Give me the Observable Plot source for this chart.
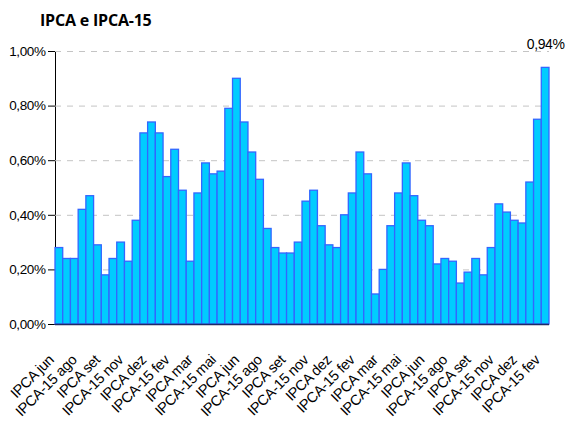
<!DOCTYPE html>
<html>
<head>
<meta charset="utf-8">
<script src="https://cdn.jsdelivr.net/npm/d3@7"></script>
<script src="https://cdn.jsdelivr.net/npm/@observablehq/plot@0.6"></script>
<style>
  html, body { margin: 0; padding: 0; background: #fff; }
  #wrap { position: relative; width: 566px; height: 424px; overflow: hidden; }
  #title { position: absolute; left: 40px; top: 12px; font: bold 16px "Open Sans", sans-serif; line-height: 16px; color: #000; letter-spacing: -0.2px; }
  #chart svg text { font-family: "Liberation Sans", Arial, sans-serif; }
  #chart svg g[aria-label="x-axis tick label"] text { font-size: 14.5px; letter-spacing: -0.3px; }
</style>
</head>
<body>
<div id="wrap">
  <div id="chart"></div>
  <div id="title">IPCA e IPCA-15</div>
</div>
<script>
const categories = [
  "IPCA jun", "IPCA-15 jul", "IPCA jul", "IPCA-15 ago", "IPCA ago", "IPCA-15 set", "IPCA set", "IPCA-15 out",
  "IPCA out", "IPCA-15 nov", "IPCA nov", "IPCA-15 dez", "IPCA dez", "IPCA-15 jan", "IPCA jan", "IPCA-15 fev",
  "IPCA fev", "IPCA-15 mar", "IPCA mar", "IPCA-15 abr", "IPCA abr", "IPCA-15 mai", "IPCA mai", "IPCA-15 jun",
  "IPCA jun", "IPCA-15 jul", "IPCA jul", "IPCA-15 ago", "IPCA ago", "IPCA-15 set", "IPCA set", "IPCA-15 out",
  "IPCA out", "IPCA-15 nov", "IPCA nov", "IPCA-15 dez", "IPCA dez", "IPCA-15 jan", "IPCA jan", "IPCA-15 fev",
  "IPCA fev", "IPCA-15 mar", "IPCA mar", "IPCA-15 abr", "IPCA abr", "IPCA-15 mai", "IPCA mai", "IPCA-15 jun",
  "IPCA jun", "IPCA-15 jul", "IPCA jul", "IPCA-15 ago", "IPCA ago", "IPCA-15 set", "IPCA set", "IPCA-15 out",
  "IPCA out", "IPCA-15 nov", "IPCA nov", "IPCA-15 dez", "IPCA dez", "IPCA-15 jan", "IPCA jan", "IPCA-15 fev"
];
const values = [
  0.28, 0.24, 0.24, 0.42, 0.47, 0.29, 0.18, 0.24,
  0.30, 0.23, 0.38, 0.70, 0.74, 0.70, 0.54, 0.64,
  0.49, 0.23, 0.48, 0.59, 0.55, 0.56, 0.79, 0.90,
  0.74, 0.63, 0.53, 0.35, 0.28, 0.26, 0.26, 0.30,
  0.45, 0.49, 0.36, 0.29, 0.28, 0.40, 0.48, 0.63,
  0.55, 0.11, 0.20, 0.36, 0.48, 0.59, 0.47, 0.38,
  0.36, 0.22, 0.24, 0.23, 0.15, 0.19, 0.24, 0.18,
  0.28, 0.44, 0.41, 0.38, 0.37, 0.52, 0.75, 0.94
];
const yTicks = [0, 0.2, 0.4, 0.6, 0.8, 1.0];
const gridTicks = [0.2, 0.4, 0.6, 0.8, 1.0];
const labelEvery = 3;

const fmt = v => v.toFixed(2).replace(".", ",") + "%";
const data = values.map((v, i) => ({i, label: categories[i], value: v}));
const xTicks = data.filter(d => d.i % labelEvery === 0).map(d => d.i);
const last = [data[data.length - 1]];

const chart = Plot.plot({
  width: 566,
  height: 424,
  marginLeft: 55,
  marginRight: 17,
  marginTop: 51,
  marginBottom: 100,
  style: {fontFamily: "'Liberation Sans', Arial, sans-serif", fontSize: "13.5px", color: "#000", background: "#fff", letterSpacing: "-0.4px"},
  x: {domain: data.map(d => d.i), padding: 0, axis: null},
  y: {domain: [0, 1], ticks: yTicks, tickFormat: fmt, tickSize: 7, tickPadding: 3, line: true, label: null},
  marks: [
    Plot.gridY(gridTicks, {stroke: "#c4c4c4", strokeOpacity: 1, strokeDasharray: "6,6", strokeWidth: 1}),
    Plot.barY(data, {x: "i", y: "value", fill: "#00ccff", stroke: "#3366ff", strokeWidth: 1.3, inset: 0}),
    Plot.ruleY([0], {stroke: "#1f2a66", strokeWidth: 1.5}),
    Plot.axisX(xTicks, {tickFormat: i => categories[i], tickRotate: -45, tickSize: 0, tickPadding: 33, dx: -8, label: null}),
    Plot.text(last, {x: "i", y: "value", text: d => fmt(d.value), dy: -23, fontSize: 14, fill: "#000"})
  ]
});
document.getElementById("chart").appendChild(chart);
</script>
</body>
</html>
